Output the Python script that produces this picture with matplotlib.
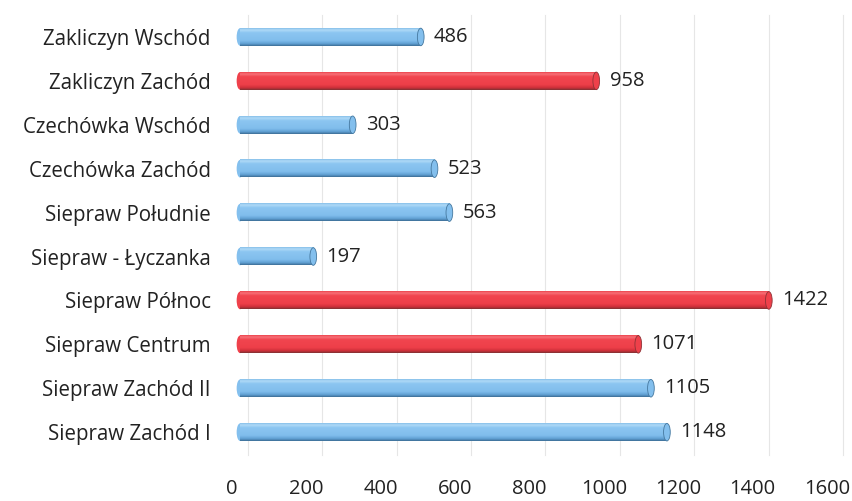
import matplotlib
matplotlib.use('Agg')
import matplotlib.pyplot as plt
import matplotlib.transforms as mtrans
from matplotlib.colors import LinearSegmentedColormap
from matplotlib.patches import Ellipse
import numpy as np

plt.rcParams['font.family'] = ['Open Sans', 'DejaVu Sans']

# data, bottom row first
names = ['Siepraw Zachód I', 'Siepraw Zachód II', 'Siepraw Centrum', 'Siepraw Północ',
         'Siepraw - Łyczanka', 'Siepraw Południe', 'Czechówka Zachód', 'Czechówka Wschód',
         'Zakliczyn Zachód', 'Zakliczyn Wschód']
values = [1148, 1105, 1071, 1422, 197, 563, 523, 303, 958, 486]
is_red = [False, False, True, True, False, False, False, False, True, False]
ticks = [0, 200, 400, 600, 800, 1000, 1200, 1400, 1600]

blue_map = LinearSegmentedColormap.from_list(
    'b', [(0, '#3c6d95'), (0.12, '#5f9fd2'), (0.3, '#80bdec'), (0.75, '#8cc6f1'), (0.9, '#b0daf7'), (1, '#86bfe9')])
red_map = LinearSegmentedColormap.from_list(
    'r', [(0, '#7e3234'), (0.12, '#cf2f39'), (0.3, '#ee3f49'), (0.75, '#f1454f'), (0.9, '#f77179'), (1, '#ec434c')])
grad = np.linspace(0, 1, 64).reshape(-1, 1)

fig = plt.figure(figsize=(8.53, 5.01), dpi=100)
ax = fig.add_axes([240 / 853, 1 - 455 / 501, 595 / 853, 440 / 501])

h = 0.40
cap_w = 18
fs = 14.5
for i, (v, red) in enumerate(zip(values, is_red)):
    cmap = red_map if red else blue_map
    ax.imshow(grad, cmap=cmap, aspect='auto', origin='lower',
              extent=(0, v, i - h / 2, i + h / 2), zorder=3, interpolation='bilinear')
    edge = '#8e3236' if red else '#45789f'
    ax.add_patch(Ellipse((0, i), cap_w, h, facecolor=cmap(0.45), edgecolor='none',
                         zorder=2.9, clip_on=False))
    ax.add_patch(Ellipse((v, i), cap_w, h, facecolor=cmap(0.4), edgecolor=edge, lw=0.6, zorder=3.1))
    ax.text(v + 36, i, str(v), va='center', ha='left', fontsize=fs, color='#222222')

ax.set_xlim(0, 1600)
ax.set_ylim(-0.52, 9.5)
ax.set_xticks(ticks)
ax.set_xticklabels([str(t) for t in ticks])
ax.set_yticks(range(len(names)))
ax.set_yticklabels(names)
ax.tick_params(axis='y', length=0, pad=21, labelsize=14.8, labelcolor='#222222')
ax.tick_params(axis='x', length=0, pad=17, labelsize=fs, labelcolor='#222222')
# tick labels sit a bit to the left, gridlines a bit to the right (3d look of the original)
shift = mtrans.ScaledTranslation(-8 / 100, 0, fig.dpi_scale_trans)
for lab in ax.get_xticklabels():
    lab.set_transform(lab.get_transform() + shift)
back = mtrans.ScaledTranslation(8 / 100, 0, fig.dpi_scale_trans)
for t in ticks:
    ax.plot([t, t], [0, 1], color='#e6e6e6', lw=0.8, zorder=1,
            transform=ax.get_xaxis_transform() + back, clip_on=False)
for s in ax.spines.values():
    s.set_visible(False)

fig.savefig('out.png', dpi=100)
